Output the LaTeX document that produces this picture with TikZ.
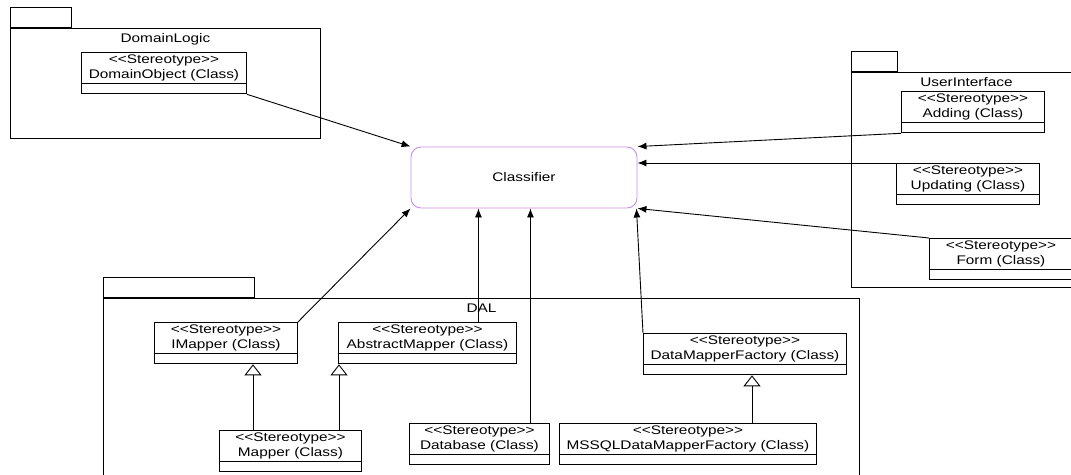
\documentclass[tikz,border=0pt]{standalone}
\usepackage{fontspec}
\setmainfont{Liberation Sans}[FakeStretch=1.23]
\usepackage{tikz}
\usetikzlibrary{arrows.meta,shapes.multipart,calc}

\definecolor{classifierline}{RGB}{204,140,230}

\begin{document}
\begin{tikzpicture}[
    x=1pt, y=-1pt,
    font=\fontsize{12.5}{15}\selectfont,
    line width=0.9pt,
    package/.style={draw, rectangle, inner sep=0pt, anchor=north west},
    pkgtab/.style={draw, rectangle, inner sep=0pt, anchor=south west, minimum height=20pt},
    pkgname/.style={anchor=north, inner sep=2pt, yshift=-3pt},
    classbox/.style={rectangle split, rectangle split parts=2, rectangle split ignore empty parts=false,
        rectangle split empty part height=5pt, draw, align=center, inner xsep=2pt, inner ysep=2pt,
        minimum width=143pt, anchor=north west},
    classifier/.style={draw=classifierline, rectangle, rounded corners=10pt, minimum width=226pt, minimum height=61pt},
    assoc/.style={-{Latex[length=9pt,width=7pt]}},
    inherit/.style={-{Triangle[open,length=11pt,width=17pt]}}
]
\useasboundingbox (0,0) rectangle (1071,474);

% Packages
\node[package, minimum width=310pt, minimum height=110pt] (pkgdomain) at (10,28) {};
\node[pkgtab, minimum width=61pt] (tabdomain) at (pkgdomain.north west) {};
\node[pkgname] (namedomain) at (pkgdomain.north) {DomainLogic};

\node[package, minimum width=230pt, minimum height=215pt] (pkgui) at (851,72) {};
\node[pkgtab, minimum width=46pt] (tabui) at (pkgui.north west) {};
\node[pkgname] (nameui) at (pkgui.north) {UserInterface};

\node[package, minimum width=756pt, minimum height=200pt] (pkgdal) at (103,298) {};
\node[pkgtab, minimum width=151pt] (tabdal) at (pkgdal.north west) {};
\node[pkgname] (namedal) at (pkgdal.north) {DAL};

% Classes
\node[classifier] (classifier) at (524,177.5) {Classifier};

\node[classbox, minimum width=165pt] (domobj) at (81,52) {{<}{<}Stereotype{>}{>}\\DomainObject (Class)};

\node[classbox] (adding) at (901,91) {{<}{<}Stereotype{>}{>}\\Adding (Class)};
\node[classbox] (updating) at (896,163) {{<}{<}Stereotype{>}{>}\\Updating (Class)};
\node[classbox] (form) at (929,238) {{<}{<}Stereotype{>}{>}\\Form (Class)};

\node[classbox] (imapper) at (154,322) {{<}{<}Stereotype{>}{>}\\IMapper (Class)};
\node[classbox, minimum width=178pt] (absmapper) at (338,322) {{<}{<}Stereotype{>}{>}\\AbstractMapper (Class)};
\node[classbox, minimum width=142pt] (mapper) at (219,430) {{<}{<}Stereotype{>}{>}\\Mapper (Class)};
\node[classbox, minimum width=140pt] (database) at (409,423) {{<}{<}Stereotype{>}{>}\\Database (Class)};
\node[classbox, minimum width=203pt] (dmfactory) at (643,333) {{<}{<}Stereotype{>}{>}\\DataMapperFactory (Class)};
\node[classbox, minimum width=257pt] (mssql) at (559,423) {{<}{<}Stereotype{>}{>}\\MSSQLDataMapperFactory (Class)};

% Associations
\draw[assoc] (domobj.south east) -- (classifier.north west);
\draw[assoc] (adding.south west) -- (classifier.north east);
\draw[assoc] (updating.north west) -- (updating.north west -| classifier.east);
\draw[assoc] (form.north west) -- (classifier.south east);
\draw[assoc] (imapper.north east) -- (classifier.south west);
\draw[assoc] ([xshift=51pt]absmapper.north) -- ([xshift=51pt]absmapper.north |- classifier.south);
\draw[assoc] ([xshift=51pt]database.north) -- ([xshift=51pt]database.north |- classifier.south);
\draw[assoc] (dmfactory.north west) -- ([xshift=-1pt]classifier.south east);

% Generalisations
\draw[inherit] ([xshift=34pt]mapper.north west) -- ([xshift=34pt]mapper.north west |- imapper.south);
\draw[inherit] ([xshift=120pt]mapper.north west) -- ([xshift=120pt]mapper.north west |- absmapper.south);
\draw[inherit] ([xshift=193pt]mssql.north west) -- ([xshift=193pt]mssql.north west |- dmfactory.south);

\end{tikzpicture}
\end{document}
